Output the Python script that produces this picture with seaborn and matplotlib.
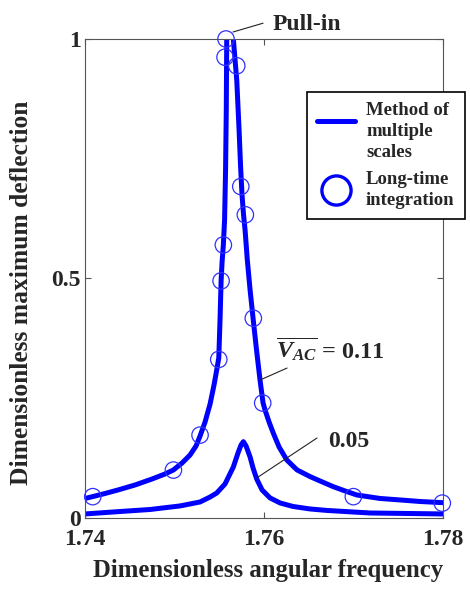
import matplotlib
matplotlib.use("Agg")
import matplotlib.pyplot as plt
from matplotlib.lines import Line2D
from matplotlib.legend_handler import HandlerLine2D
import seaborn as sns
import pandas as pd

# V_AC = 0.11 curve, split in two branches at the pull-in point
hi_left_freq = [1.74000, 1.74078, 1.74223, 1.74369, 1.74559, 1.74749, 1.74894, 1.74987,
                1.75084, 1.75173, 1.75240, 1.75285, 1.75341, 1.75397, 1.75441, 1.75475,
                1.75494, 1.75508, 1.75520, 1.75531, 1.75545, 1.75559, 1.75570, 1.75578,
                1.75583]
hi_left_amp = [0.0407, 0.0443, 0.0511, 0.0585, 0.0689, 0.0814, 0.0919, 0.1002,
               0.1148, 0.1315, 0.1503, 0.1712, 0.2004, 0.2380, 0.2777, 0.3132,
               0.3340, 0.4130, 0.4948, 0.5340, 0.5699, 0.6221, 0.7265, 0.8518,
               1.0000]
hi_right_freq = [1.75657, 1.75676, 1.75695, 1.75721, 1.75737, 1.75754, 1.75771, 1.75788,
                 1.75813, 1.75844, 1.75877, 1.75916, 1.75955, 1.75989, 1.76011, 1.76056,
                 1.76104, 1.76168, 1.76254, 1.76369, 1.76514, 1.76626, 1.76774, 1.76905,
                 1.77036, 1.77296, 1.77520, 1.77743, 1.78000]
hi_right_amp = [1.0000, 0.9562, 0.9144, 0.8100, 0.7370, 0.6743, 0.6326, 0.6013,
                0.5386, 0.4760, 0.4175, 0.3507, 0.2881, 0.2401, 0.2255, 0.2004,
                0.1768, 0.1482, 0.1211, 0.1002, 0.0864, 0.0772, 0.0653, 0.0564,
                0.0480, 0.0407, 0.0376, 0.0344, 0.0319]

# V_AC = 0.05 curve
lo_freq = [1.74000, 1.74369, 1.74726, 1.75061, 1.75285, 1.75397, 1.75472, 1.75564,
           1.75657, 1.75709, 1.75743, 1.75769, 1.75799, 1.75844, 1.75877, 1.75918,
           1.75978, 1.76067, 1.76179, 1.76324, 1.76514, 1.76704, 1.77184, 1.78000]
lo_amp = [0.0084, 0.0132, 0.0177, 0.0251, 0.0334, 0.0438, 0.0522, 0.0710,
          0.1065, 0.1357, 0.1524, 0.1593, 0.1503, 0.1273, 0.1044, 0.0814,
          0.0585, 0.0418, 0.0313, 0.0240, 0.0188, 0.0157, 0.0104, 0.0084]

# long-time integration points
circ_freq = [1.74086, 1.74987, 1.75285, 1.75494, 1.75520, 1.75545, 1.75564, 1.75575,
             1.75695, 1.75740, 1.75791, 1.75880, 1.75985, 1.76998, 1.77992]
circ_amp = [0.0445, 0.100, 0.173, 0.331, 0.495, 0.570, 0.962, 1.000,
            0.944, 0.692, 0.633, 0.417, 0.240, 0.0445, 0.031]

curves = pd.concat([
    pd.DataFrame({"freq": hi_left_freq, "amp": hi_left_amp, "branch": "hi_left"}),
    pd.DataFrame({"freq": hi_right_freq, "amp": hi_right_amp, "branch": "hi_right"}),
    pd.DataFrame({"freq": lo_freq, "amp": lo_amp, "branch": "lo"}),
], ignore_index=True)

sns.set_style("ticks")
plt.rcParams["font.family"] = ["Liberation Serif", "DejaVu Serif"]
plt.rcParams["font.weight"] = "bold"
plt.rcParams["mathtext.fontset"] = "custom"
plt.rcParams["mathtext.rm"] = "Liberation Serif:bold"
plt.rcParams["mathtext.it"] = "Liberation Serif:italic:bold"
plt.rcParams["mathtext.bf"] = "Liberation Serif:bold"

blue = "#0000ff"
grey = "#555555"


class UpLine(HandlerLine2D):
    # legend line sits beside the first text lines, as in the original
    def create_artists(self, legend, orig_handle, xdescent, ydescent, width,
                       height, fontsize, trans):
        arts = super().create_artists(legend, orig_handle, xdescent, ydescent,
                                      width, height, fontsize, trans)
        for a in arts:
            a.set_ydata([y + 0.55 * fontsize for y in a.get_ydata()])
        return arts


fig, ax = plt.subplots(figsize=(4.7, 5.89), dpi=100)
fig.subplots_adjust(left=0.181, right=0.9426, bottom=0.1206, top=0.9338)

sns.lineplot(data=curves, x="freq", y="amp", units="branch", estimator=None,
             sort=False, color=blue, lw=3.6, ax=ax)
sns.scatterplot(x=circ_freq, y=circ_amp, s=140, marker="o", facecolor="none",
                edgecolor="#3030ff", linewidth=0.9, clip_on=False, zorder=4, ax=ax)

ax.set_xlim(1.74, 1.78)
ax.set_ylim(0, 1)
ax.set_xticks([1.74, 1.76, 1.78])
ax.set_xticklabels(["1.74", "1.76", "1.78"])
ax.set_yticks([0, 0.5, 1])
ax.set_yticklabels(["0", "0.5", "1"])
ax.tick_params(direction="in", top=True, right=True, length=4, width=0.8,
               color=grey, labelsize=17)
ax.tick_params(axis="x", pad=8)
ax.tick_params(axis="y", pad=3)
for sp in ax.spines.values():
    sp.set_color(grey)
    sp.set_linewidth(0.8)

ax.set_xlabel("Dimensionless angular frequency", fontsize=17.8, fontweight="bold")
ax.set_ylabel("Dimensionless maximum deflection", fontsize=18.4, fontweight="bold")
ax.xaxis.set_label_coords(0.511, -0.085)
ax.yaxis.set_label_coords(-0.145, 0.47)

# annotations
ax.plot([1.75653, 1.75989], [1.0146, 1.033], color="#222222", lw=0.8, clip_on=False)
ax.text(1.7610, 1.031, "Pull-in", fontsize=17, fontweight="bold", va="center", ha="left")
ax.plot([1.75955, 1.76257], [0.288, 0.313], color="#222222", lw=0.8)
ax.text(1.76130, 0.352, r"$\overline{V_{AC}}$ = 0.11", fontsize=17.5, fontweight="bold",
        va="center", ha="left")
ax.plot([1.75918, 1.76592], [0.0835, 0.167], color="#222222", lw=0.8)
ax.text(1.76715, 0.160, "0.05", fontsize=17, fontweight="bold", va="center", ha="left")

handles = [Line2D([], [], color=blue, lw=3.6),
           Line2D([], [], ls="none", marker="o", markersize=21, mfc="none",
                  mec=blue, mew=2.4)]
leg = ax.legend(handles, ["Method of\nmultiple\nscales", "Long-time\nintegration"],
                handler_map={handles[0]: UpLine()},
                loc="upper left", bbox_to_anchor=(0.62, 0.889), borderaxespad=0,
                fontsize=13.5, frameon=True, fancybox=False, handlelength=2.0,
                handletextpad=0.6, borderpad=0.55, labelspacing=0.5)
for t in leg.get_texts():
    t.set_linespacing(1.3)
leg.get_frame().set_edgecolor("black")
leg.get_frame().set_linewidth(1.2)
leg.get_frame().set_alpha(1)

fig.savefig("out.png", dpi=100)
